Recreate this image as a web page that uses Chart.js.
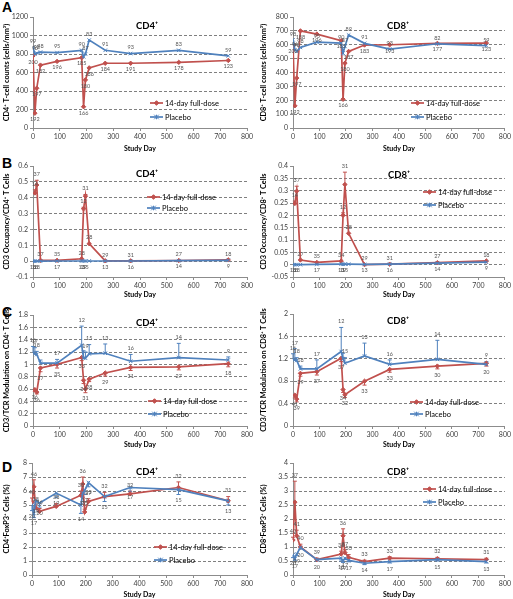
<!DOCTYPE html>
<html><head><meta charset="utf-8">
<script src="https://cdn.jsdelivr.net/npm/chart.js@4/dist/chart.umd.min.js"></script>
<style>
html,body{margin:0;padding:0;background:#fff;}
body{width:513px;height:599px;position:relative;overflow:hidden;font-family:Lato,"Liberation Sans",sans-serif;}
canvas{position:absolute;}
.lt{position:absolute;font:bold 14px "Liberation Sans",Arial,sans-serif;line-height:14px;color:#000;}
</style></head><body>
<div class="lt" style="left:2px;top:0px">A</div>
<div class="lt" style="left:2px;top:156px">B</div>
<div class="lt" style="left:2px;top:305px">C</div>
<div class="lt" style="left:2px;top:460px">D</div>
<canvas id="a1"></canvas><canvas id="a2"></canvas>
<canvas id="b1"></canvas><canvas id="b2"></canvas>
<canvas id="c1"></canvas><canvas id="c2"></canvas>
<canvas id="d1"></canvas><canvas id="d2"></canvas>
<script>
// ---------- data ----------
const studyDays = [0, 7, 14, 28, 90, 182, 189, 196, 210, 270, 365, 545, 730];
const seriesNames = ['14-day full-dose', 'Placebo'];

// A: CD4+ / CD8+ T-cell counts
const aCD4Drug = [780, 160, 430, 680, 720, 760, 230, 520, 650, 700, 700, 710, 730];
const aCD4DrugN = [200, 192, 197, 182, 196, 185, 166, 180, 186, 184, 191, 178, 123];
const aCD4Plac = [870, 800, 810, 820, 815, 840, 770, 800, 950, 840, 805, 840, 780];
const aCD4PlacN = [99, 96, 98, 98, 95, 90, null, 87, 83, 91, 93, 83, 59];
const aCD8Drug = [600, 160, 360, 700, 677, 630, 207, 467, 552, 598, 600, 610, 612];
const aCD8DrugN = [200, 192, 197, 188, 196, 185, 166, 180, 187, 183, 193, 177, 123];
const aCD8Plac = [636, 564, 552, 581, 619, 612, 540, 588, 670, 610, 569, 607, 593];
const aCD8PlacN = [98, 96, 98, 98, 95, 90, null, 87, 89, 91, 93, 82, 59];

// B: CD3 occupancy
const bCD4Drug = [null, 0.43, 0.48, 0.005, 0.005, 0.015, 0.33, 0.41, 0.11, 0.002, 0.002, 0.004, 0.008];
const bCD4DrugErr = [null, 0.02, 0.03, 0, 0, 0, 0.01, 0.01, 0, 0, 0, 0, 0];
const bCD4DrugN = [null, 14, 37, 37, 35, 28, 12, 31, 28, 29, 31, 27, 18];
const bCD4Plac = [0, 0, 0, 0, 0.001, 0.001, 0.001, 0.001, 0.001, 0.001, 0.001, 0.003, 0.005];
const bCD4PlacN = [16, 18, 18, null, 17, 13, 19, 15, null, 13, 16, 14, 9];
const bCD8Drug = [null, 0.248, 0.298, 0.019, 0.009, 0.015, 0.2, 0.325, 0.127, 0.0, 0.002, 0.008, 0.015];
const bCD8DrugErr = [null, 0.01, 0.02, 0, 0, 0, 0.01, 0.05, 0, 0, 0, 0, 0];
const bCD8DrugN = [null, 14, 37, 27, 35, 34, 12, 31, 28, 29, 31, 27, 18];
const bCD8Plac = [0, 0, 0, 0, 0.001, 0.002, 0.002, 0.002, 0.002, 0.001, 0.002, 0.006, 0.01];
const bCD8PlacN = [16, 18, 18, null, 17, 13, 19, 15, null, 13, 16, 14, 9];

// C: CD3/TCR modulation
const cCD4Drug = [null, 0.59, 0.55, 0.94, 1.0, 1.11, 0.74, 0.6, 0.76, 0.86, 0.95, 0.96, 1.01];
const cCD4DrugErr = [null, 0.03, 0.03, 0.06, 0.06, 0.05, 0.05, 0.06, 0.04, 0.05, 0.05, 0.05, 0.05];
const cCD4DrugN = [null, 36, 36, 37, 35, 33, 34, 31, 28, 29, 31, 27, 18];
const cCD4Plac = [1.19, 1.17, 1.16, 1.02, 1.02, 1.31, 1.1, 1.1, 1.17, 1.18, 1.05, 1.11, 1.07];
const cCD4PlacErr = [0.1, 0.1, 0.05, 0.05, 0.06, 0.31, 0.12, 0.1, 0.15, 0.15, 0.11, 0.23, 0.05];
const cCD4PlacN = [16, 17, 18, null, 17, 12, null, 19, 15, 13, 16, 14, 9];
const cCD8Drug = [null, 0.55, 0.48, 0.94, 0.97, 1.21, 0.65, 0.56, null, 0.8, 1.01, 1.07, 1.12];
const cCD8DrugErr = [null, 0.05, 0.05, 0.05, 0.06, 0.06, 0.05, 0.05, null, 0.07, 0.05, 0.05, 0.05];
const cCD8DrugN = [null, 41, 39, 39, 37, 37, 34, 32, null, 33, 33, 30, 20];
const cCD8Plac = [1.19, 1.18, 1.17, 1.02, 1.02, 1.33, 1.2, 1.12, null, 1.25, 1.1, 1.19, 1.1];
const cCD8PlacErr = [0.1, 0.2, 0.05, 0.05, 0.16, 0.43, 0.1, 0.1, null, 0.23, 0.08, 0.34, 0.05];
const cCD8PlacN = [16, 17, 18, 18, 17, 12, null, 15, null, 13, 16, 14, 9];

// D: FoxP3+ cells (%)
const dCD4Drug = [5.2, 6.3, 4.8, 4.55, 4.9, 5.7, 6.5, 4.5, 5.25, 5.6, 5.8, 6.25, 5.3];
const dCD4DrugErr = [0.3, 0.5, 0.2, 0.2, 0.2, 0.3, 0.5, 0.2, 0.2, 0.3, 0.2, 0.4, 0.3];
const dCD4DrugN = [40, 46, 38, 36, 38, 38, 36, 35, 33, 32, 32, 32, 31];
const dCD4Plac = [5.0, 4.4, 5.3, 5.15, 5.85, 5.0, 5.85, 6.05, 6.6, 5.6, 6.25, 6.1, 5.3];
const dCD4PlacErr = [0.4, 0.3, 0.3, 0.3, 0.3, 0.6, 0.3, 0.3, 0.3, 0.35, 0.3, 0.35, 0.3];
const dCD4PlacN = [20, 17, 19, 20, 19, 14, 17, 17, 17, 15, 17, 15, 13];
const dCD8Drug = [1.25, 2.6, 1.4, 1.0, 0.55, 0.75, 1.4, 0.8, 0.63, 0.48, 0.6, 0.58, 0.55];
const dCD8DrugErr = [0.1, 0.75, 0.2, 0.1, 0.05, 0.1, 0.25, 0.1, 0.1, 0.05, 0.05, 0.05, 0.05];
const dCD8DrugN = [40, 37, 41, 40, 39, 38, 36, 37, 33, 33, 33, 32, 31];
const dCD8Plac = [0.72, 0.58, 0.75, 0.98, 0.55, 0.6, 0.5, 0.6, 0.52, 0.42, 0.48, 0.55, 0.48];
const dCD8PlacErr = [0.1, 0.05, 0.05, 0.05, 0.05, 0.1, 0.05, 0.05, 0.05, 0.05, 0.05, 0.05, 0.05];
const dCD8PlacN = [20, 17, 19, 20, 20, 18, 19, 17, 17, 14, 17, 15, 13];

// axis ranges / ticks
const xRange = {min: 0, max: 800, step: 100};
const yRanges = {
  a1: {min: 0, max: 1200, step: 200}, a2: {min: 0, max: 800, step: 100},
  b1: {min: -0.1, max: 0.6, step: 0.1}, b2: {min: -0.05, max: 0.4, step: 0.05},
  c1: {min: 0, max: 1.8, step: 0.2}, c2: {min: 0, max: 2, step: 0.2},
  d1: {min: 0, max: 8, step: 1}, d2: {min: 0, max: 4, step: 0.5}
};

// ---------- styling / layout ----------
const RED = '#C0504D', BLUE = '#4F81BD', AX = '#8c8c8c';
const FONT = 'Lato, "Liberation Sans", sans-serif';

const panels = [
  {id:'a1', left:0,   top:3,   w:256, h:150, yw:33, padR:9, xh:25, ytp:2, title:'CD4⁺', ttl:[114,9], leg:[117,86,100],
   ytitle:'CD4⁺ T-cell counts (cells/mm³)', drug:aCD4Drug, drugN:aCD4DrugN, plac:aCD4Plac, placN:aCD4PlacN, drugDir:1, placDir:-1, drugLab:1, placLab:-1},
  {id:'a2', left:256, top:3,   w:257, h:150, yw:37, padR:8, xh:25, ytp:3, title:'CD8⁺', ttl:[105,9], leg:[118,86,100],
   ytitle:'CD8⁺ T-cell counts (cells/mm³)', drug:aCD8Drug, drugN:aCD8DrugN, plac:aCD8Plac, placN:aCD8PlacN, drugDir:1, placDir:-1, drugLab:1, placLab:-1},
  {id:'b1', left:0,   top:152, w:256, h:147, yw:33, padR:9, xh:22, ytp:2, title:'CD4⁺', ttl:[114,8], leg:[114,31,42],
   ytitle:'CD3 Occupancy/CD4⁺ T Cells', drug:bCD4Drug, drugErr:bCD4DrugErr, drugN:bCD4DrugN, plac:bCD4Plac, placN:bCD4PlacN, drugDir:1, placDir:-1, drugLab:-1, placLab:1},
  {id:'b2', left:256, top:152, w:257, h:147, yw:37, padR:8, xh:22, ytp:3, title:'CD8⁺', ttl:[106,9], leg:[130,26,39],
   ytitle:'CD3 Occupancy/CD8⁺ T Cells', drug:bCD8Drug, drugErr:bCD8DrugErr, drugN:bCD8DrugN, plac:bCD8Plac, placN:bCD8PlacN, drugDir:1, placDir:-1, drugLab:-1, placLab:1},
  {id:'c1', left:0,   top:301, w:256, h:148, yw:33, padR:9, xh:23, ytp:2, title:'CD4⁺', ttl:[114,8], leg:[115,86,99],
   ytitle:'CD3/TCR Modulation on CD4⁺ T Cells', drug:cCD4Drug, drugErr:cCD4DrugErr, drugN:cCD4DrugN, plac:cCD4Plac, placErr:cCD4PlacErr, placN:cCD4PlacN, drugDir:-1, placDir:1, drugLab:1, placLab:-1},
  {id:'c2', left:256, top:300, w:257, h:149, yw:37, padR:8, xh:23, ytp:3, title:'CD8⁺', ttl:[105,7], leg:[117,88,100],
   ytitle:'CD3/TCR Modulation on CD8⁺ T Cells', drug:cCD8Drug, drugErr:cCD8DrugErr, drugN:cCD8DrugN, plac:cCD8Plac, placErr:cCD8PlacErr, placN:cCD8PlacN, drugDir:-1, placDir:1, drugLab:1, placLab:-1},
  {id:'d1', left:0,   top:449, w:256, h:150, yw:32, padR:9, xh:24, ytp:2, title:'CD4⁺', ttl:[115,9], leg:[122,84,97],
   ytitle:'CD4⁺FoxP3⁺ Cells (%)', drug:dCD4Drug, drugErr:dCD4DrugErr, drugN:dCD4DrugN, plac:dCD4Plac, placErr:dCD4PlacErr, placN:dCD4PlacN, drugDir:1, placDir:-1, drugLab:-1, placLab:1},
  {id:'d2', left:256, top:449, w:257, h:150, yw:37, padR:7, xh:24, ytp:3, title:'CD8⁺', ttl:[105,9], leg:[130,26,39],
   ytitle:'CD8⁺FoxP3⁺ Cells (%)', drug:dCD8Drug, drugErr:dCD8DrugErr, drugN:dCD8DrugN, plac:dCD8Plac, placErr:dCD8PlacErr, placN:dCD8PlacN, drugDir:1, placDir:-1, drugLab:-1, placLab:1}
];

function drawMarker(ctx, style, x, y, color) {
  ctx.save();
  ctx.strokeStyle = color; ctx.fillStyle = color; ctx.lineWidth = 1;
  if (style === 'rectRot') {
    const r = 2.3;
    ctx.beginPath(); ctx.moveTo(x, y - r); ctx.lineTo(x + r, y); ctx.lineTo(x, y + r); ctx.lineTo(x - r, y); ctx.closePath();
    ctx.fill(); ctx.stroke();
  } else {
    const r = 2.3;
    ctx.beginPath(); ctx.moveTo(x - r, y - r); ctx.lineTo(x + r, y + r); ctx.moveTo(x + r, y - r); ctx.lineTo(x - r, y + r);
    ctx.moveTo(x, y - r); ctx.lineTo(x, y + r); ctx.stroke();
  }
  ctx.restore();
}

const extras = {
  id: 'extras',
  beforeDatasetsDraw(chart) {
    const ctx = chart.ctx, ys = chart.scales.y;
    chart.data.datasets.forEach((ds, di) => {
      if (!ds.errors) return;
      const meta = chart.getDatasetMeta(di);
      ctx.save(); ctx.strokeStyle = ds.borderColor; ctx.lineWidth = 1;
      ds.data.forEach((p, i) => {
        const e = ds.errors[i];
        if (p.y == null || !e) return;
        const el = meta.data[i];
        const y2 = ys.getPixelForValue(p.y + ds.errDir * e);
        ctx.beginPath(); ctx.moveTo(el.x, el.y); ctx.lineTo(el.x, y2);
        ctx.moveTo(el.x - 2, y2); ctx.lineTo(el.x + 2, y2); ctx.stroke();
      });
      ctx.restore();
    });
  },
  afterDatasetsDraw(chart, args, opts) {
    const ctx = chart.ctx, ys = chart.scales.y, area = chart.chartArea;
    // n labels
    chart.data.datasets.forEach((ds, di) => {
      const meta = chart.getDatasetMeta(di);
      ctx.save();
      ctx.font = '5.5px ' + FONT; ctx.fillStyle = '#555'; ctx.textAlign = 'center'; ctx.textBaseline = 'middle';
      ds.data.forEach((p, i) => {
        const n = ds.nLabels[i];
        if (p.y == null || n == null) return;
        const el = meta.data[i];
        let y = el.y;
        const e = ds.errors ? ds.errors[i] : 0;
        if (e && ds.errDir === -ds.labDir) y = ys.getPixelForValue(p.y + ds.errDir * e);
        y += ds.labDir * 6;
        ctx.fillText(String(n), el.x, y);
      });
      ctx.restore();
    });
    // title
    ctx.save();
    ctx.font = 'bold 9.5px ' + FONT; ctx.fillStyle = '#000'; ctx.textAlign = 'center'; ctx.textBaseline = 'middle';
    ctx.fillText(opts.title, area.left + opts.ttl[0], area.top + opts.ttl[1]);
    ctx.restore();
    // legend
    chart.data.datasets.forEach((ds, di) => {
      const x0 = area.left + opts.leg[0], y0 = area.top + opts.leg[1 + di];
      ctx.save();
      ctx.strokeStyle = ds.borderColor; ctx.lineWidth = 1.7;
      ctx.beginPath(); ctx.moveTo(x0, y0); ctx.lineTo(x0 + 13, y0); ctx.stroke();
      drawMarker(ctx, ds.pointStyle, x0 + 6.5, y0, ds.borderColor);
      ctx.font = '7.5px ' + FONT; ctx.fillStyle = '#000'; ctx.textAlign = 'left'; ctx.textBaseline = 'middle';
      ctx.fillText(ds.label, x0 + 15, y0 + 0.5);
      ctx.restore();
    });
  }
};

function pts(vals) { return studyDays.map((d, i) => ({x: d, y: vals[i]})); }
const fmt = v => String(+Number(v).toFixed(3));

panels.forEach(p => {
  const cv = document.getElementById(p.id);
  cv.width = p.w; cv.height = p.h;
  cv.style.left = p.left + 'px'; cv.style.top = p.top + 'px';
  const yr = yRanges[p.id];
  new Chart(cv, {
    type: 'line',
    data: {
      datasets: [
        {label: seriesNames[0], data: pts(p.drug), borderColor: RED, backgroundColor: RED, borderWidth: 1.7,
         pointStyle: 'rectRot', pointRadius: 2.2, pointBorderWidth: 1, spanGaps: true,
         errors: p.drugErr || null, errDir: p.drugDir, nLabels: p.drugN, labDir: p.drugLab, order: 2},
        {label: seriesNames[1], data: pts(p.plac), borderColor: BLUE, backgroundColor: BLUE, borderWidth: 1.7,
         pointStyle: 'crossRot', pointRadius: 2.5, pointBorderWidth: 1, spanGaps: true,
         errors: p.placErr || null, errDir: p.placDir, nLabels: p.placN, labDir: p.placLab, order: 1}
      ]
    },
    options: {
      responsive: false, animation: false, devicePixelRatio: 1,
      layout: {padding: {top: 14, right: p.padR, left: 0, bottom: 0}},
      plugins: {legend: {display: false}, tooltip: {enabled: false},
        extras: {title: p.title, ttl: p.ttl, leg: p.leg}},
      scales: {
        x: {type: 'linear', min: xRange.min, max: xRange.max,
          ticks: {stepSize: xRange.step, font: {size: 7, family: FONT}, color: '#404040', padding: 2, maxRotation: 0, callback: fmt},
          grid: {drawOnChartArea: false, drawTicks: true, tickLength: 3, color: AX},
          border: {color: AX, width: 1},
          title: {display: true, text: 'Study Day', font: {size: 7, weight: 'bold', family: FONT}, color: '#000', padding: {top: 0, bottom: 0}},
          afterFit: s => { s.height = p.xh; }
        },
        y: {min: yr.min, max: yr.max,
          ticks: {stepSize: yr.step, font: {size: 7, family: FONT}, color: '#404040', padding: 2, callback: fmt},
          grid: {
            color: c => (Math.abs(c.tick.value - yr.max) < 1e-9 || Math.abs(c.tick.value - yr.min) < 1e-9) ? 'rgba(0,0,0,0)' : '#7f7f7f',
            tickColor: AX, tickLength: 3, tickBorderDash: [], lineWidth: 1
          },
          border: {color: AX, width: 1, dash: [3, 2]},
          title: {display: true, text: p.ytitle, font: {size: 7.3, weight: 'bold', family: FONT}, color: '#000', padding: {top: p.ytp, bottom: 0}},
          afterFit: s => { s.width = p.yw; }
        }
      }
    },
    plugins: [extras]
  });
});
</script>
</body></html>
